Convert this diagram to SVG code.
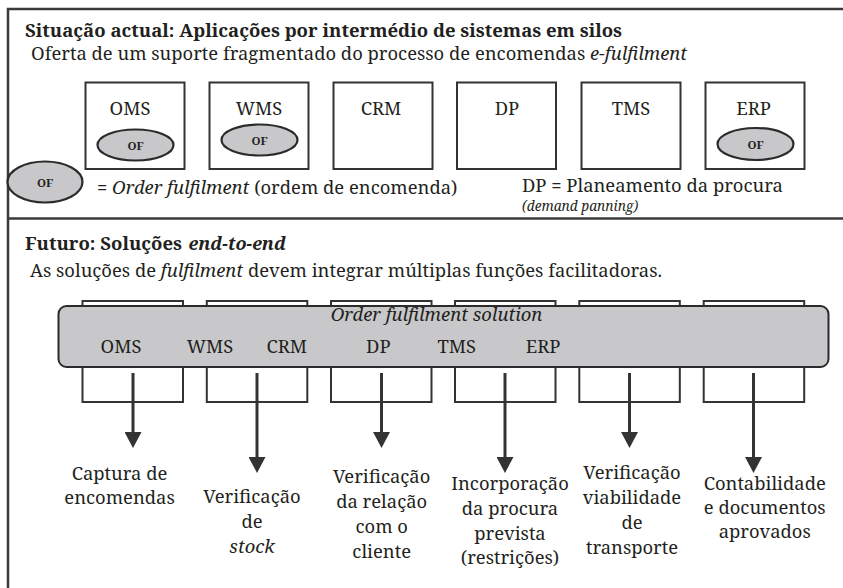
<svg xmlns="http://www.w3.org/2000/svg" width="843" height="588" viewBox="0 0 843 588">
<defs>
<style>
text{font-family:'Noto Serif','DejaVu Serif',serif;fill:#231f20}
.t{font-size:18.4px}
.b{font-weight:bold}
.i{font-style:italic}
.m{text-anchor:middle}
.of{font-size:11.5px;font-weight:bold;text-anchor:middle}
.box{fill:#fff;stroke:#333;stroke-width:2}
.ell{fill:#c8c8ca;stroke:#2b2b2b;stroke-width:2.2}
.frame{fill:none;stroke:#3a3a3a;stroke-width:2.5}
.arr{stroke:#333;stroke-width:3;fill:none;marker-end:url(#ah)}
</style>
<marker id="ah" markerUnits="userSpaceOnUse" markerWidth="17" markerHeight="17" refX="2" refY="8.5" orient="auto" viewBox="0 0 17 17">
<path d="M0,0 L16,8.5 L0,17 z" fill="#333"/>
</marker>
</defs>
<rect width="843" height="588" fill="#fff"/>
<g id="frame">
<rect class="frame" x="8" y="9" width="845" height="590"/>
<line class="frame" x1="8" y1="218.5" x2="843" y2="218.5"/>
</g>
<g id="top-headings">
<text class="t b" x="25" y="37" textLength="597" lengthAdjust="spacingAndGlyphs">Situação actual: Aplicações por intermédio de sistemas em  silos</text>
<text class="t" x="31" y="60">Oferta de um suporte fragmentado do processo de encomendas<tspan class="i"> e-fulfilment</tspan></text>
</g>
<g id="oms-top">
<rect class="box" x="85.5" y="82.5" width="99" height="86.5"/>
<text class="t m" x="130" y="115">OMS</text>
<ellipse class="ell" cx="135.5" cy="145" rx="38" ry="15.5"/>
<text class="of" x="135.5" y="150">OF</text>
</g>
<g id="wms-top">
<rect class="box" x="209.5" y="82.5" width="99" height="86.5"/>
<text class="t m" x="259" y="115">WMS</text>
<ellipse class="ell" cx="259.5" cy="140" rx="38" ry="15.5"/>
<text class="of" x="259.5" y="145">OF</text>
</g>
<g id="crm-top">
<rect class="box" x="333.5" y="82.5" width="99" height="86.5"/>
<text class="t m" x="381" y="115">CRM</text>
</g>
<g id="dp-top">
<rect class="box" x="457" y="82.5" width="99" height="86.5"/>
<text class="t m" x="507" y="115">DP</text>
</g>
<g id="tms-top">
<rect class="box" x="581.5" y="82.5" width="99" height="86.5"/>
<text class="t m" x="631" y="115">TMS</text>
</g>
<g id="erp-top">
<rect class="box" x="705.5" y="82.5" width="99" height="86.5"/>
<text class="t m" x="753.5" y="115">ERP</text>
<ellipse class="ell" cx="755.5" cy="144" rx="38" ry="16"/>
<text class="of" x="755.5" y="149">OF</text>
</g>
<g id="legend-of">
<ellipse class="ell" cx="45" cy="182" rx="37.5" ry="20.5"/>
<text class="of" x="45" y="186.5">OF</text>
<text class="t" x="97" y="194">= <tspan class="i">Order fulfilment</tspan> (ordem de encomenda)</text>
</g>
<g id="legend-dp">
<text class="t" x="522" y="192">DP = Planeamento da procura</text>
<text class="t i" x="522" y="211" style="font-size:13.7px">(demand panning)</text>
</g>
<g id="bottom-headings">
<text class="t b" x="25" y="250" textLength="157" lengthAdjust="spacingAndGlyphs">Futuro: Soluções</text>
<text class="t b i" x="188.5" y="250" textLength="97.5" lengthAdjust="spacingAndGlyphs">end-to-end</text>
<text class="t" x="30" y="277">As soluções de <tspan class="i">fulfilment</tspan> devem integrar múltiplas funções facilitadoras.</text>
</g>
<g id="function-boxes">
<rect class="box" x="82.5" y="301" width="100.5" height="101"/>
<rect class="box" x="206.8" y="301" width="100.5" height="101"/>
<rect class="box" x="331" y="301" width="100.5" height="101"/>
<rect class="box" x="455" y="301" width="100.5" height="101"/>
<rect class="box" x="579.3" y="301" width="100.5" height="101"/>
<rect class="box" x="703.7" y="301" width="100.5" height="101"/>
</g>
<g id="solution-bar">
<rect x="58.5" y="306" width="770" height="61" rx="8" fill="#c8c8ca" stroke="#2b2b2b" stroke-width="2"/>
<text class="t i m" x="436.5" y="321">Order fulfilment solution</text>
<text class="t m" x="121" y="353">OMS</text>
<text class="t m" x="210" y="353">WMS</text>
<text class="t m" x="286.7" y="353">CRM</text>
<text class="t m" x="378.3" y="353">DP</text>
<text class="t m" x="456.7" y="353">TMS</text>
<text class="t m" x="543" y="353">ERP</text>
</g>
<g id="connectors">
<line class="arr" x1="133" y1="373" x2="133" y2="434"/>
<line class="arr" x1="257" y1="373" x2="257" y2="459"/>
<line class="arr" x1="381.5" y1="373" x2="381.5" y2="434"/>
<line class="arr" x1="505" y1="373" x2="505" y2="459"/>
<line class="arr" x1="629.5" y1="373" x2="629.5" y2="434"/>
<line class="arr" x1="753.5" y1="373" x2="753.5" y2="459"/>
</g>
<g id="out-captura">
<text class="t m" x="119.5" y="479.5">Captura de</text>
<text class="t m" x="119.5" y="503.5">encomendas</text>
</g>
<g id="out-stock">
<text class="t m" x="252" y="503">Verificação</text>
<text class="t m" x="252" y="528">de</text>
<text class="t m i" x="252" y="553">stock</text>
</g>
<g id="out-cliente">
<text class="t m" x="381.7" y="483">Verificação</text>
<text class="t m" x="381.7" y="508">da relação</text>
<text class="t m" x="381.7" y="533">com o</text>
<text class="t m" x="381.7" y="557.5">cliente</text>
</g>
<g id="out-procura">
<text class="t m" x="510" y="490">Incorporação</text>
<text class="t m" x="510" y="515">da procura</text>
<text class="t m" x="510" y="540">prevista</text>
<text class="t m" x="510" y="564">(restrições)</text>
</g>
<g id="out-transporte">
<text class="t m" x="632" y="479">Verificação</text>
<text class="t m" x="632" y="503.5">viabilidade</text>
<text class="t m" x="632" y="528.5">de</text>
<text class="t m" x="632" y="553.5">transporte</text>
</g>
<g id="out-contab">
<text class="t m" x="764.7" y="489.5">Contabilidade</text>
<text class="t m" x="764.7" y="513.5">e documentos</text>
<text class="t m" x="764.7" y="538">aprovados</text>
</g>
</svg>
